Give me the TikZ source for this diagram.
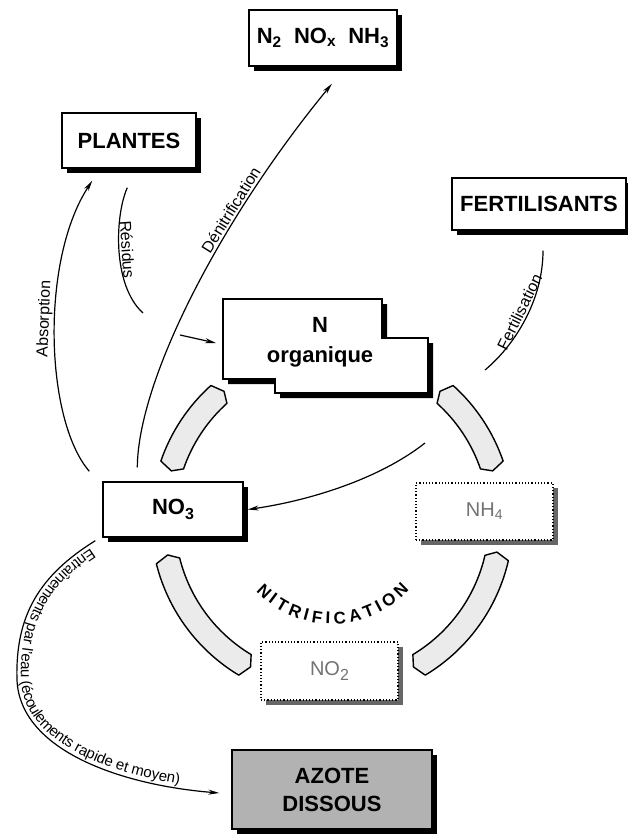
\documentclass[tikz,border=0pt]{standalone}
\usepackage{fontspec}
\setmainfont{Liberation Sans}
\usetikzlibrary{arrows.meta,calc,decorations.text,shadows}
\newcommand\bigsub[1]{\raisebox{-0.4ex}{\fontsize{16}{16}\selectfont #1}}
\tikzset{
  box/.style={draw, line width=1.4pt, fill=white, inner sep=0pt, align=center,
    font=\bfseries\fontsize{22}{28}\selectfont,
    drop shadow={shadow xshift=5pt, shadow yshift=-5pt, opacity=1, fill=black}},
  dbox/.style={draw, dotted, line width=1.2pt, fill=white, inner sep=0pt, align=center,
    text=black!55, font=\fontsize{20}{22}\selectfont,
    drop shadow={shadow xshift=5pt, shadow yshift=-5pt, opacity=1, fill=black!60}},
  lbl/.style={font=\fontsize{16}{16}\selectfont, inner sep=2pt},
  conn/.style={line width=1.2pt},
  arr/.style={conn, -{Stealth[length=11pt,width=5pt]}},
  bandst/.style={draw, line width=1.4pt, fill=black!8, line join=round},
}
\newcommand\nband[2]{%
  \filldraw[bandst] ($(c)+(#1:181)$) arc[start angle=#1, end angle=#2, radius=181]
    -- ($(c)+({#2+2}:168)$) -- ($(c)+(#2:157)$)
    arc[start angle=#2, end angle=#1, radius=157]
    -- ($(c)+({#1-2}:168)$) -- cycle;}
\begin{document}
\begin{tikzpicture}[x=1pt,y=1pt]
\useasboundingbox (0,0) rectangle (628,-837);
\coordinate (c) at (332,-520);

% boxes
\node[box, minimum width=148, minimum height=56] (gas) at (323,-38)
  {N\textsubscript{2}\ \ NO\textsubscript{x}\ \ NH\textsubscript{3}};
\node[box, minimum width=134, minimum height=55] (plantes) at (129,-140.5) {PLANTES};
\node[box, minimum width=174, minimum height=52] (fert) at (539,-204) {FERTILISANTS};
\node[box, minimum width=140, minimum height=55] (no3) at (173,-509.5) {NO\bigsub{3}};
\node[dbox, minimum width=137, minimum height=57] (nh4) at (484.5,-511.5) {NH\textsubscript{4}};
\node[dbox, minimum width=137, minimum height=58] (no2) at (329.5,-671) {NO\bigsub{2}};
\node[box, fill=black!30, minimum width=200, minimum height=79] (azote) at (332,-789.5) {AZOTE\\DISSOUS};

% N organique
\fill[black] (228,-304) -- (387,-304) -- (387,-343) -- (433,-343) -- (433,-398)
  -- (280,-398) -- (280,-384) -- (228,-384) -- cycle;
\filldraw[line width=1.4pt, fill=white] (223,-299) -- (382,-299) -- (382,-338) -- (428,-338)
  -- (428,-393) -- (275,-393) -- (275,-379) -- (223,-379) -- cycle;
\node[align=center, font=\bfseries\fontsize{22}{30}\selectfont] (norg) at (320,-342) {N\\organique};

% bands of the cycle
\nband{132}{161}
\nband{19}{48}
\nband{194}{239}
\nband{301}{347}

\path[decorate, decoration={text along path,
  text={|\bfseries\fontsize{17}{17}\selectfont|NITRIFICATION}, text align=fit to path}]
  ($(c)+(223:104)$) arc[start angle=223, end angle=318, radius=104];

% connectors
\coordinate (absS) at ($(no3.north west)+(-13,10)$);
\coordinate (absT) at ($(plantes.south west)+(31,-12)$);
\draw[arr] (absS) .. controls (45,-420) and (40,-260) .. (absT)
  node[pos=0.55, sloped, allow upside down, above, lbl] {Absorption};

\coordinate (resS) at ($(plantes.south west)+(66,-19)$);
\coordinate (resE) at (143,-313);
\draw[conn] (resS) .. controls (115,-215) and (112,-285) .. (resE)
  node[pos=0.5, sloped, allow upside down, above, lbl] {Résidus};
\coordinate (resA) at (180,-335);
\coordinate (resT) at (216,-343);
\draw[arr] (resA) -- (resT);

\coordinate (denS) at ($(no3.north west)+(35,14)$);
\coordinate (denT) at ($(gas.south)+(9,-17)$);
\draw[arr] (denS) .. controls (138,-380) and (220,-220) .. (denT)
  node[pos=0.69, sloped, above, lbl] {Dénitrification};

\coordinate (ferS) at ($(fert.south)+(4,-20)$);
\coordinate (ferE) at (485,-370);
\draw[conn] (ferS) .. controls (543,-300) and (515,-345) .. (ferE)
  node[pos=0.47, sloped, above, lbl] {Fertilisation};

\coordinate (minS) at (425,-443);
\draw[arr] (minS) .. controls (378,-480) and (307,-501) .. ($(no3.east)+(4,0)$);

\coordinate (entS) at ($(no3.south west)+(-7,-3)$);
\coordinate (entT) at ($(azote.west)+(-12,-3.5)$);
\draw[arr] (entS) .. controls (40,-575) and (15,-615) .. (17,-680)
  .. controls (20,-750) and (120,-785) .. (entT);
\path[decorate, decoration={text along path, raise=4pt, text align={left indent=8pt},
  text={|\fontsize{15}{15}\selectfont|Entraînements par l'eau (écoulements rapide et moyen)}}]
  (entS) .. controls (40,-575) and (15,-615) .. (17,-680)
  .. controls (20,-750) and (120,-785) .. (entT);
\end{tikzpicture}
\end{document}
